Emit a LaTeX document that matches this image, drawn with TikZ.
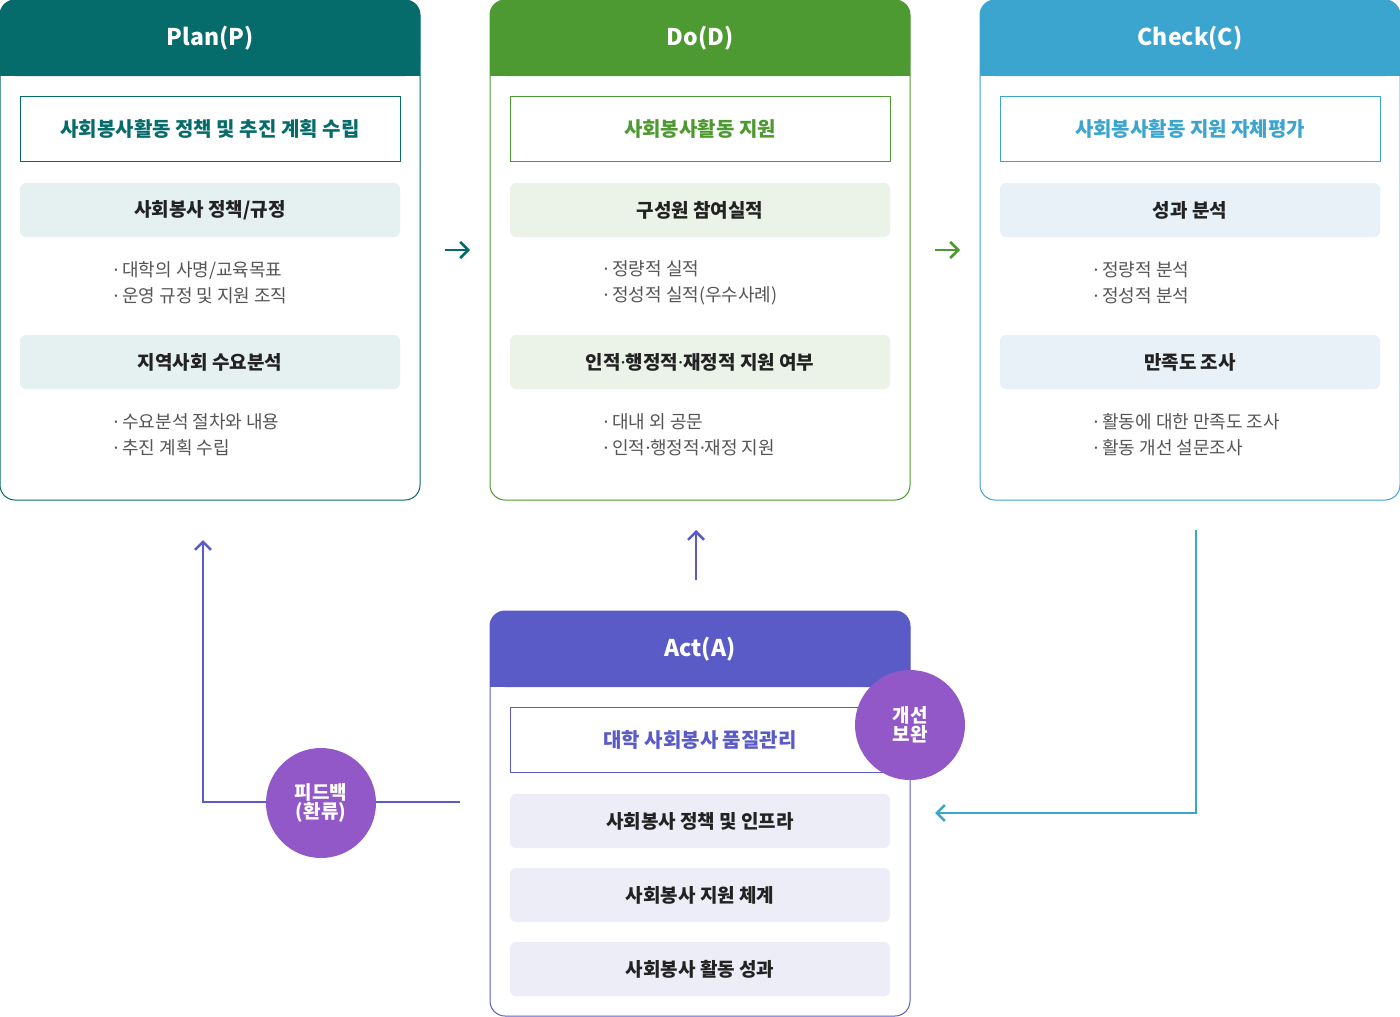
\documentclass[tikz,border=0pt]{standalone}
\usepackage{fontspec}
\setmainfont{Noto Sans CJK KR}
\newfontfamily\lat{Noto Sans}
\usetikzlibrary{arrows.meta}
\definecolor{cP}{HTML}{066B6B}
\definecolor{cD}{HTML}{4E9A32}
\definecolor{cC}{HTML}{3BA4CF}
\definecolor{cA}{HTML}{5B5BC8}
\definecolor{cV}{HTML}{9358C8}
\definecolor{gP}{HTML}{E5F0F1}
\definecolor{gD}{HTML}{EBF3E8}
\definecolor{gC}{HTML}{E8F0F8}
\definecolor{gA}{HTML}{EDEDF8}
\definecolor{txt}{HTML}{222222}
\definecolor{btxt}{HTML}{555555}
\newcommand{\md}{{\lat·}}
\tikzset{
 hdr/.style={text=white,font=\fontsize{23}{27}\selectfont\bfseries},
 ttl/.style={draw=#1,line width=1pt,minimum width=380pt,minimum height=65pt,text=#1,font=\fontsize{20}{24}\selectfont\bfseries},
 gbox/.style={fill=#1,rounded corners=6pt,minimum width=380pt,minimum height=54pt,text=txt,font=\fontsize{19}{23}\selectfont\bfseries},
 bul/.style={anchor=west,text=btxt,font=\fontsize{18}{26}\selectfont,align=left},
 circ/.style={circle,fill=cV,minimum size=110pt,text=white,align=center,font=\fontsize{19}{22}\selectfont\bfseries},
 arr/.style={line width=2.5pt,-{Straight Barb[length=8pt,width=16pt]}}
}
\newcommand{\panel}[5]{% x0, y0, y1, color, name
 \draw[#4,line width=1pt,fill=white,rounded corners=15pt] (#1,#2) rectangle (#1+420,#3);
 \fill[#4,rounded corners=15pt] (#1,#2) rectangle (#1+420,#2+76);
 \fill[#4] (#1,#2+40) rectangle (#1+420,#2+76);
 \node[hdr] (#5) at (#1+210,#2+38) {};
}
\begin{document}
\begin{tikzpicture}[x=1pt,y=-1pt]
\useasboundingbox (0,0) rectangle (1400,1017);
% Plan
\panel{0}{0}{500}{cP}{hP}
\node[hdr] at (210,38) {Plan(P)};
\node[ttl=cP] (tP) at (210,128.5) {사회봉사활동 정책 및 추진 계획 수립};
\node[gbox=gP] (p1) at (210,210) {사회봉사 정책/규정};
\node[bul] (pb1) at (110,283) {\md\ 대학의 사명/교육목표\\\md\ 운영 규정 및 지원 조직};
\node[gbox=gP] (p2) at (210,362) {지역사회 수요분석};
\node[bul] (pb2) at (110,435) {\md\ 수요분석 절차와 내용\\\md\ 추진 계획 수립};
% Do
\panel{490}{0}{500}{cD}{hD}
\node[hdr] at (700,38) {Do(D)};
\node[ttl=cD] (tD) at (700,128.5) {사회봉사활동 지원};
\node[gbox=gD] (d1) at (700,210) {구성원 참여실적};
\node[bul] (db1) at (600,283) {\md\ 정량적 실적\\\md\ 정성적 실적(우수사례)};
\node[gbox=gD] (d2) at (700,362) {인적\md 행정적\md 재정적 지원 여부};
\node[bul] (db2) at (600,435) {\md\ 대내 외 공문\\\md\ 인적\md 행정적\md 재정 지원};
% Check
\panel{980}{0}{500}{cC}{hC}
\node[hdr] at (1190,38) {Check(C)};
\node[ttl=cC] (tC) at (1190,128.5) {사회봉사활동 지원 자체평가};
\node[gbox=gC] (c1) at (1190,210) {성과 분석};
\node[bul] (cb1) at (1090,283) {\md\ 정량적 분석\\\md\ 정성적 분석};
\node[gbox=gC] (c2) at (1190,362) {만족도 조사};
\node[bul] (cb2) at (1090,435) {\md\ 활동에 대한 만족도 조사\\\md\ 활동 개선 설문조사};
% Act
\panel{490}{611}{1016}{cA}{hA}
\node[hdr] at (700,649) {Act(A)};
\node[ttl=cA] (tA) at (700,739.5) {대학 사회봉사 품질관리};
\node[gbox=gA] (a1) at (700,821) {사회봉사 정책 및 인프라};
\node[gbox=gA] (a2) at (700,895) {사회봉사 지원 체계};
\node[gbox=gA] (a3) at (700,969) {사회봉사 활동 성과};
\node[circ] (imp) at (910,725) {개선\\[-3pt]보완};
% arrows
\coordinate (pd1) at (445,250); \coordinate (pd2) at (470,250);
\draw[arr,cP] (pd1) -- (pd2);
\coordinate (dc1) at (935,250); \coordinate (dc2) at (960,250);
\draw[arr,cD] (dc1) -- (dc2);
\coordinate (ad1) at (696,580); \coordinate (ad2) at (696,530);
\draw[arr,cA] (ad1) -- (ad2);
\coordinate (fb1) at (460,802); \coordinate (fb2) at (203,802); \coordinate (fb3) at (203,540);
\draw[arr,cA] (fb1) -- (fb2) -- (fb3);
\coordinate (ca1) at (1196,530); \coordinate (ca2) at (1196,813); \coordinate (ca3) at (935,813);
\draw[arr,cC] (ca1) -- (ca2) -- (ca3);
\node[circ] (fb) at (321,803) {피드백\\[-3pt](환류)};
\end{tikzpicture}
\end{document}
